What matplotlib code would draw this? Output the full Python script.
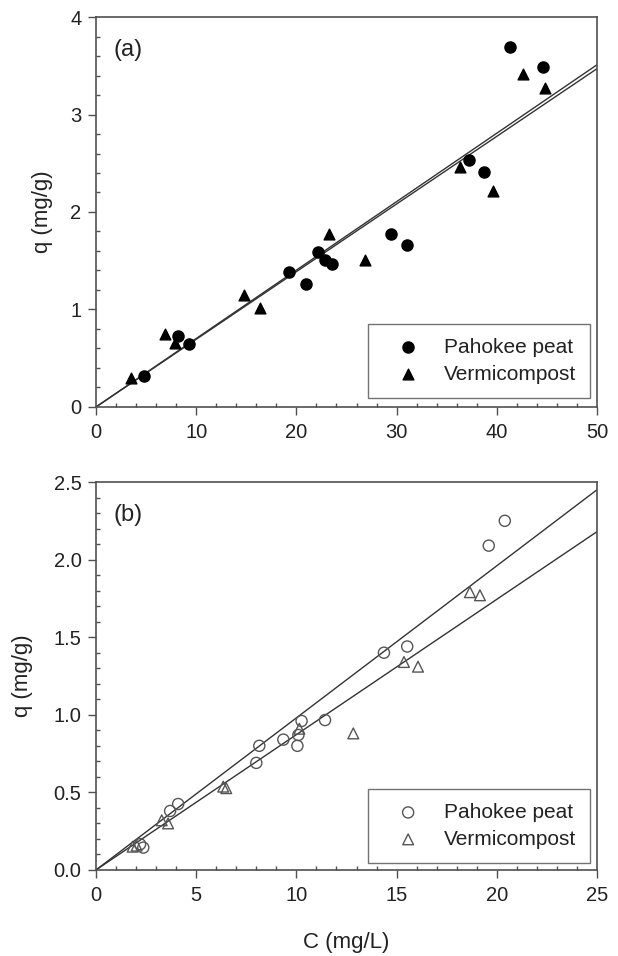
import matplotlib
matplotlib.use("Agg")
import matplotlib.pyplot as plt
from matplotlib.ticker import MultipleLocator, FormatStrFormatter
import numpy as np

plt.rcParams['font.family'] = ['Liberation Sans', 'DejaVu Sans']

# panel (a) data
a_peat_c = [4.8, 8.2, 9.3, 19.3, 21.0, 22.2, 22.9, 23.6, 29.4, 31.0, 37.2, 38.7, 41.3, 44.6]
a_peat_q = [0.32, 0.73, 0.65, 1.38, 1.26, 1.59, 1.51, 1.47, 1.77, 1.66, 2.53, 2.41, 3.69, 3.49]
a_verm_c = [3.5, 6.9, 7.9, 14.8, 16.4, 23.3, 26.8, 36.3, 39.6, 42.6, 44.8]
a_verm_q = [0.30, 0.75, 0.66, 1.15, 1.02, 1.77, 1.51, 2.46, 2.22, 3.42, 3.27]
a_slopes = [0.0702, 0.0694]

# panel (b) data
b_peat_c = [2.2, 2.36, 3.7, 4.1, 8.0, 8.15, 9.35, 10.05, 10.1, 10.26, 11.43, 14.37, 15.53, 19.6, 20.4]
b_peat_q = [0.166, 0.144, 0.38, 0.425, 0.69, 0.80, 0.84, 0.80, 0.87, 0.96, 0.966, 1.40, 1.44, 2.09, 2.25]
b_verm_c = [1.83, 2.03, 3.28, 3.6, 6.35, 6.5, 10.15, 12.84, 15.37, 16.07, 18.66, 19.16]
b_verm_q = [0.15, 0.157, 0.32, 0.30, 0.537, 0.527, 0.91, 0.88, 1.34, 1.31, 1.79, 1.77]
b_slopes = [0.098, 0.0872]

spine_col = '#505050'
tick_fs = 14.5
label_fs = 16
leg_fs = 15

fig = plt.figure(figsize=(6.18, 9.56), dpi=100)
ax1 = fig.add_axes([0.1553, 0.5743, 0.8107, 0.4079])
ax2 = fig.add_axes([0.1553, 0.0900, 0.8107, 0.4058])


def style(ax, xmaj, xmin, ymaj, ymin):
    for s in ax.spines.values():
        s.set_color(spine_col)
        s.set_linewidth(1.2)
    ax.xaxis.set_major_locator(MultipleLocator(xmaj))
    ax.xaxis.set_minor_locator(MultipleLocator(xmin))
    ax.yaxis.set_major_locator(MultipleLocator(ymaj))
    ax.yaxis.set_minor_locator(MultipleLocator(ymin))
    ax.tick_params(which='major', direction='out', length=5.5, width=1, color=spine_col,
                   labelsize=tick_fs, labelcolor='#222222')
    ax.tick_params(axis='x', which='major', pad=6)
    ax.tick_params(axis='y', which='major', pad=5)
    ax.tick_params(which='minor', direction='in', length=3, width=1, color=spine_col)


def add_legend(ax, y0):
    leg = ax.legend(loc='lower right', bbox_to_anchor=(0.986, y0), borderaxespad=0,
                    fontsize=leg_fs, frameon=True, fancybox=False, edgecolor=spine_col,
                    handlelength=2.5, handletextpad=0.45, borderpad=0.68,
                    labelspacing=0.38)
    leg.get_frame().set_linewidth(1.0)
    for t in leg.get_texts():
        t.set_color('#222222')
    return leg


# (a)
ax1.scatter(a_peat_c, a_peat_q, s=64, marker='o', color='black', zorder=3, label='Pahokee peat')
ax1.scatter(a_verm_c, a_verm_q, s=60, marker='^', color='black', zorder=3, label='Vermicompost')
xx = np.array([0, 50])
for k in a_slopes:
    ax1.plot(xx, k * xx, color='#333333', lw=1.0, zorder=2)
ax1.set_xlim(0, 50)
ax1.set_ylim(0, 4)
style(ax1, 10, 2, 1, 0.2)
ax1.set_ylabel('q (mg/g)', fontsize=label_fs, color='#222222')
ax1.yaxis.set_label_coords(-0.086, 0.5)
ax1.text(0.034, 0.915, '(a)', transform=ax1.transAxes, fontsize=17, va='center',
         color='#222222')
add_legend(ax1, 0.023)

# (b)
ax2.scatter(b_peat_c, b_peat_q, s=64, marker='o', facecolors='none', edgecolors='#555555',
            linewidths=1.0, zorder=3, label='Pahokee peat')
ax2.scatter(b_verm_c, b_verm_q, s=60, marker='^', facecolors='none', edgecolors='#555555',
            linewidths=1.0, zorder=3, label='Vermicompost')
xx = np.array([0, 25])
for k in b_slopes:
    ax2.plot(xx, k * xx, color='#333333', lw=1.0, zorder=2)
ax2.set_xlim(0, 25)
ax2.set_ylim(0, 2.5)
style(ax2, 5, 1, 0.5, 0.1)
ax2.yaxis.set_major_formatter(FormatStrFormatter('%.1f'))
ax2.set_ylabel('q (mg/g)', fontsize=label_fs, color='#222222')
ax2.yaxis.set_label_coords(-0.126, 0.5)
ax2.set_xlabel('C (mg/L)', fontsize=label_fs, color='#222222', va='center')
ax2.xaxis.set_label_coords(0.5, -0.186)
ax2.text(0.034, 0.915, '(b)', transform=ax2.transAxes, fontsize=17, va='center',
         color='#222222')
add_legend(ax2, 0.018)

fig.savefig('out.png', dpi=100)
